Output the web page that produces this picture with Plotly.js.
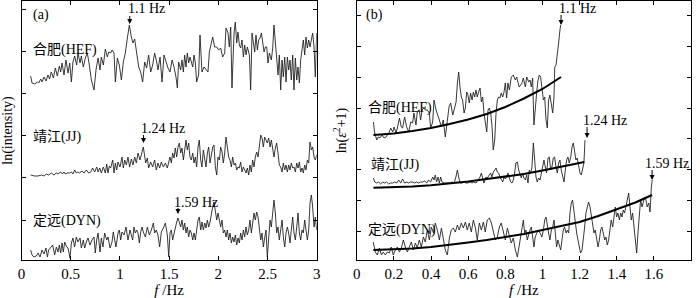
<!DOCTYPE html>
<html><head><meta charset="utf-8">
<script src="https://cdn.plot.ly/plotly-3.0.1.min.js"></script>
<style>html,body{margin:0;padding:0;background:#fff}#chart{width:700px;height:298px}</style>
</head><body><div id="chart"></div>
<script>
// ---------- (a) ln(intensity) spectra ----------
const aHefF = [0.093,0.107,0.134,0.161,0.175,0.195,0.208,0.229,0.249,0.269,0.286,0.303,0.324,0.344,0.364,0.385,0.398,0.412,0.432,0.452,0.473,0.490,0.507,0.523,0.540,0.561,0.574,0.595,0.608,0.628,0.649,0.669,0.689,0.710,0.737,0.757,0.778,0.798,0.811,0.832,0.852,0.872,0.886,0.906,0.920,0.940,0.954,0.974,0.994,1.015,1.035,1.055,1.076,1.096,1.116,1.133,1.150,1.170,1.191,1.211,1.231,1.252,1.272,1.292,1.313,1.333,1.353,1.374,1.387,1.408,1.428,1.448,1.469,1.489,
1.509,1.530,1.550,1.570,1.584,1.597,1.618,1.631,1.645,1.658,1.672,1.685,1.699,1.712,1.726,1.740,1.753,1.767,1.780,1.800,1.814,1.834,1.855,1.875,1.895,1.909,1.929,1.943,1.963,1.984,2.004,2.024,2.044,2.065,2.078,2.099,2.112,2.126,2.139,2.160,2.173,2.187,2.200,2.214,2.227,2.241,2.255,2.268,2.282,2.295,2.316,2.329,2.343,2.356,2.370,2.383,2.397,2.410,2.424,2.438,2.451,2.465,2.478,2.492,2.505,2.519,2.539,2.553,2.566,2.580,2.593,2.607,2.620,2.634,2.648,2.661,2.675,2.688,2.702,2.715,2.729,2.742,2.756,2.769,2.783,2.797,2.810,2.824,2.837,2.851,2.864,2.878,2.891,2.905,2.919,2.932,2.946,2.959,2.973,2.986,3.000];
const aHefV = [18.4,17.7,17.6,17.8,17.7,18.1,17.8,18.3,17.9,18.5,18.1,18.8,18.2,19.2,18.4,19.4,18.8,19.7,18.5,20.0,18.7,19.7,17.8,19.8,20.4,19.5,20.7,19.7,20.4,19.3,20.2,20.7,19.5,18.0,17.0,19.0,20.2,19.0,20.3,19.5,21.1,20.3,20.8,20.7,21.0,20.7,17.8,20.2,19.5,18.0,19.8,20.7,22.2,23.5,22.3,21.7,22.1,20.5,19.3,18.8,17.8,19.8,19.2,20.5,18.8,19.5,20.7,19.8,19.0,20.3,17.8,20.5,19.7,19.2,
18.8,20.0,19.3,18.3,17.2,19.8,19.0,20.0,18.8,20.5,19.3,20.7,19.7,20.3,19.8,19.3,20.5,19.7,17.8,18.5,22.5,18.8,19.3,19.0,18.8,20.8,21.7,22.3,21.3,21.3,21.0,21.2,20.3,20.7,23.2,22.7,21.3,23.3,17.2,22.7,23.8,21.7,22.8,21.5,21.2,22.0,20.3,21.5,20.5,21.3,20.5,17.0,22.7,21.7,20.8,22.5,21.0,22.0,22.2,22.7,21.8,20.8,21.3,21.3,19.7,20.7,20.0,21.2,23.5,21.7,20.5,18.5,20.5,17.0,20.0,18.3,20.3,17.8,20.3,19.0,20.0,18.0,20.5,17.0,20.2,18.0,19.3,17.7,20.0,21.3,22.0,20.5,22.3,21.2,22.0,21.3,22.3,22.7,21.3,18.3,22.7];

const aJjF = [0.093,0.134,0.168,0.202,0.229,0.252,0.276,0.303,0.330,0.354,0.371,0.398,0.415,0.432,0.446,0.466,0.490,0.507,0.523,0.540,0.557,0.574,0.591,0.615,0.635,0.659,0.683,0.703,0.723,0.744,0.764,0.778,0.795,0.811,0.832,0.852,0.866,0.879,0.893,0.906,0.927,0.940,0.954,0.967,0.981,1.001,1.021,1.035,1.049,1.066,1.082,1.099,1.116,1.133,1.150,1.167,1.184,1.204,1.238,1.250,1.262,1.279,1.292,1.313,1.333,1.353,1.370,1.387,1.404,1.421,1.442,1.462,1.482,
1.509,1.523,1.536,1.550,1.563,1.577,1.590,1.604,1.618,1.631,1.645,1.658,1.672,1.685,1.699,1.712,1.726,1.740,1.753,1.767,1.780,1.794,1.807,1.821,1.834,1.848,1.862,1.875,1.889,1.902,1.916,1.929,1.943,1.956,1.970,1.984,1.997,2.011,2.024,2.038,2.051,2.065,2.078,2.092,2.105,2.119,2.133,2.146,2.160,2.173,2.187,2.200,2.214,2.227,2.241,2.255,2.268,2.282,2.295,2.309,2.322,2.336,2.349,2.363,2.376,2.390,2.404,2.417,2.431,2.444,2.458,2.471,2.485,2.498,2.512,2.526,2.539,2.553,2.566,2.580,2.593,2.607,2.620,2.634,2.648,2.661,2.675,2.688,2.702,2.715,2.729,2.742,2.756,2.769,2.783,2.797,2.810,2.824,2.837,2.851,2.864,2.878,2.891,2.905,2.919,2.932,2.946,2.959,2.973,2.986,3.000];
const aJjV = [8.5,8.4,8.4,8.5,8.4,8.6,8.5,8.7,8.5,8.7,8.6,8.8,8.6,8.8,8.6,8.7,8.7,8.8,8.6,9.0,8.7,8.8,8.7,8.9,8.7,9.0,8.7,8.8,9.2,8.8,9.3,8.8,9.2,8.7,9.3,8.7,9.6,8.7,9.4,9.2,10.0,8.7,9.7,9.0,9.8,9.3,10.3,9.2,10.0,9.5,10.3,9.3,10.1,9.5,10.3,9.7,10.7,10.0,11.3,10.3,9.7,10.2,9.2,9.8,9.3,10.0,9.0,9.7,9.2,9.8,9.3,9.7,9.2,
10.3,9.7,10.7,10.2,11.2,10.3,11.3,11.7,10.7,11.2,10.0,11.3,12.0,11.0,11.7,10.3,10.0,10.7,9.7,10.3,9.3,11.3,12.0,10.0,9.3,11.0,10.3,9.3,10.7,11.3,9.7,10.3,11.3,11.5,9.3,8.5,10.3,10.0,11.3,10.8,9.7,10.7,12.3,11.3,10.3,10.0,9.3,10.3,9.5,9.7,9.0,9.3,9.2,9.8,8.8,9.3,9.0,8.7,9.2,8.5,9.5,8.8,10.0,9.3,10.3,10.8,10.3,11.3,12.5,12.2,11.3,12.3,12.0,11.7,12.2,11.3,12.0,11.0,10.3,11.2,11.7,10.7,9.5,9.3,8.8,9.7,9.0,9.5,8.8,9.5,9.0,9.7,9.2,9.3,8.8,9.7,9.2,9.8,8.8,9.2,8.7,9.5,9.0,10.0,9.7,11.8,11.0,11.3,10.3,10.0,10.5];

const aDynF = [0.093,0.107,0.127,0.151,0.168,0.188,0.208,0.229,0.249,0.263,0.276,0.296,0.317,0.337,0.354,0.371,0.385,0.398,0.412,0.425,0.439,0.459,0.473,0.493,0.507,0.523,0.540,0.557,0.574,0.595,0.608,0.628,0.642,0.659,0.676,0.696,0.716,0.737,0.750,0.764,0.778,0.798,0.811,0.828,0.845,0.866,0.879,0.900,0.920,0.933,0.947,0.960,0.981,0.994,1.008,1.021,1.042,1.062,1.082,1.103,1.116,1.130,1.143,1.157,1.170,1.184,1.198,1.211,1.225,1.238,1.259,1.279,1.299,1.320,1.340,1.353,1.370,1.387,1.404,1.421,1.442,1.462,1.482,
1.496,1.509,1.523,1.536,1.550,1.563,1.577,1.590,1.604,1.618,1.631,1.645,1.658,1.672,1.685,1.699,1.712,1.726,1.740,1.753,1.767,1.780,1.794,1.807,1.821,1.834,1.848,1.862,1.875,1.889,1.902,1.916,1.929,1.943,1.956,1.970,1.984,1.997,2.011,2.024,2.038,2.051,2.065,2.078,2.092,2.105,2.119,2.133,2.146,2.160,2.173,2.187,2.200,2.214,2.227,2.241,2.255,2.268,2.282,2.295,2.309,2.322,2.336,2.349,2.363,2.376,2.390,2.404,2.417,2.431,2.444,2.458,2.471,2.485,2.498,2.512,2.526,2.539,2.553,2.566,2.580,2.593,2.607,2.620,2.634,2.648,2.661,2.675,2.688,2.702,2.715,2.729,2.742,2.756,2.769,2.783,2.797,2.810,2.824,2.837,2.851,2.864,2.878,2.891,2.905,2.919,2.932,2.946,2.959,2.973,2.986,3.000];
const aDynV = [1.0,0.5,0.3,0.4,0.7,0.3,1.0,0.6,1.2,0.3,1.0,1.2,1.5,0.5,1.3,0.8,1.5,0.7,1.7,0.8,1.8,1.3,1.2,0.2,1.7,2.2,1.3,2.3,1.8,2.2,1.2,2.0,1.2,1.8,2.2,1.5,2.0,2.3,0.7,2.0,2.7,0.8,2.2,1.3,2.7,2.0,2.3,1.2,1.8,2.8,2.0,1.3,2.7,3.0,2.0,2.8,2.5,3.3,2.0,3.0,2.5,2.0,3.3,2.7,3.0,2.7,1.7,2.8,3.3,2.8,2.3,3.3,2.5,3.0,3.7,2.7,3.0,2.5,1.3,2.8,3.2,3.7,2.5,
0.3,2.7,3.0,2.0,2.7,3.3,3.8,4.2,3.8,3.3,4.0,3.0,3.7,2.7,3.3,2.3,3.0,2.7,2.0,2.7,2.0,3.0,4.0,4.3,3.0,3.8,3.0,3.7,3.2,4.0,3.3,3.8,4.7,5.3,5.8,4.7,4.0,4.7,3.8,3.3,4.0,2.7,3.0,2.3,3.0,2.0,2.7,1.7,2.3,1.8,2.5,1.5,2.2,1.7,2.7,2.0,3.0,2.3,3.3,2.5,3.0,4.0,2.7,3.7,4.7,4.0,4.8,4.3,3.0,2.0,2.7,1.3,2.2,3.0,0.3,2.7,4.0,3.3,4.7,6.0,4.7,2.7,3.3,2.0,3.0,4.0,2.3,1.3,2.7,3.3,2.7,1.7,3.0,4.3,2.7,2.0,3.3,4.7,2.7,2.0,3.0,2.7,4.0,2.7,2.0,3.0,5.7,6.5,5.3,3.3,4.3,3.0];

// ---------- (b) ln(eps^2+1) with fitted trends ----------
const bHefF = [0.090,0.097,0.108,0.115,0.125,0.136,0.147,0.158,0.165,0.176,0.183,0.194,0.201,0.212,0.219,0.230,0.240,0.247,0.258,0.269,0.280,0.291,0.301,0.308,0.319,0.326,0.337,0.344,0.352,0.362,0.369,0.380,0.391,0.398,0.409,0.416,0.427,0.434,0.445,0.456,0.466,0.477,0.488,0.497,0.506,0.517,0.524,0.535,0.542,0.549,0.556,0.563,0.570,0.578,0.585,0.592,0.599,0.606,0.613,0.621,0.628,0.635,0.642,0.649,0.656,0.664,0.671,0.678,0.685,0.692,0.700,0.707,0.714,0.721,0.728,0.735,0.743,0.750,0.757,0.764,0.771,0.778,0.786,0.793,0.800,0.807,0.814,0.822,0.832,0.843,0.854,0.861,0.868,0.875,0.890,0.897,0.908,0.915,0.926,0.933,0.940,0.947,0.954,0.961,0.969,0.976,0.983,0.990,0.997,1.005,1.012,1.019,1.026,1.033,1.040,1.048,1.055,1.062,1.066,1.073,1.080,1.087,1.094,1.098];
const bHefV = [13.8,12.7,12.0,12.3,12.2,12.5,12.2,12.3,12.5,12.8,13.2,12.8,13.3,12.7,13.2,14.2,13.3,13.2,14.3,13.3,12.8,13.8,13.7,14.7,13.5,14.8,15.0,14.0,15.0,15.2,15.0,15.0,14.7,13.2,13.8,16.0,15.0,14.5,14.0,13.3,14.0,12.3,14.3,15.3,15.7,14.5,15.0,15.8,17.7,18.8,17.3,16.3,16.0,14.7,15.2,16.8,16.5,15.7,16.7,16.0,16.8,16.3,17.0,16.3,16.8,17.2,15.8,16.3,14.7,14.0,12.8,15.0,15.2,14.7,13.5,11.0,12.0,14.7,16.0,16.3,16.2,16.7,16.3,16.8,17.7,16.2,17.7,17.0,18.3,18.5,18.0,18.3,17.7,17.3,17.7,18.2,17.3,18.3,17.8,18.0,17.3,18.2,13.5,15.3,16.8,18.0,18.5,18.3,17.3,16.0,16.3,14.0,13.2,16.0,16.5,15.3,14.7,16.3,19.3,19.5,21.0,21.7,23.0,23.5];
const bHefFitF = [0.09,0.2,0.3,0.4,0.5,0.6,0.7,0.8,0.9,1.0,1.1];
const bHefFitV = [12.5,12.65,12.9,13.2,13.6,14.05,14.6,15.3,16.15,17.1,18.3];

const bJjF = [0.090,0.097,0.108,0.118,0.129,0.140,0.151,0.161,0.172,0.183,0.194,0.204,0.215,0.226,0.237,0.247,0.258,0.269,0.280,0.290,0.301,0.312,0.323,0.334,0.344,0.355,0.366,0.377,0.387,0.398,0.409,0.416,0.423,0.430,0.438,0.445,0.452,0.459,0.470,0.481,0.491,0.502,0.513,0.524,0.534,0.542,0.549,0.556,0.567,0.578,0.588,0.599,0.610,0.621,0.631,0.642,0.653,0.664,0.671,0.678,0.685,0.696,0.703,0.714,0.721,0.728,0.735,0.743,0.750,0.757,0.764,0.771,0.778,0.786,0.793,0.800,0.807,0.814,0.822,0.829,0.836,0.843,0.850,0.857,0.865,0.872,0.886,0.893,0.900,0.908,0.915,0.922,0.929,0.936,0.943,0.951,0.958,0.965,0.972,0.979,0.987,0.994,1.001,1.008,1.015,1.022,1.030,1.037,1.044,1.051,1.058,1.065,1.073,1.080,1.087,1.094,1.101,1.109,1.116,1.123,1.130,1.137,1.144,1.152,1.159,1.166,1.173,1.180,1.187,1.195,1.202,1.209,1.216,1.223,1.229];
const bJjV = [8.2,7.8,7.7,7.8,7.6,7.8,7.7,7.8,7.6,7.7,7.7,7.8,7.7,8.0,7.7,8.1,7.7,7.8,7.7,7.8,7.8,7.7,7.8,7.7,7.8,7.8,7.9,7.7,8.0,7.8,8.3,8.0,8.5,7.8,8.3,7.7,8.3,7.8,7.7,7.7,7.7,7.7,7.8,7.7,8.3,9.0,8.3,7.7,7.7,7.8,7.7,7.7,7.8,7.7,7.8,7.7,8.0,8.3,8.7,8.0,7.7,8.3,8.2,8.5,8.7,8.3,8.8,9.0,9.2,8.8,8.7,8.3,8.0,7.8,8.3,8.1,8.3,8.7,8.2,7.8,7.7,8.0,8.7,9.7,9.8,9.0,8.2,8.7,8.2,8.0,8.5,7.7,9.0,8.7,9.2,11.7,10.0,8.3,7.8,8.2,8.0,8.7,9.5,10.0,9.3,8.7,10.2,10.3,9.0,9.3,10.2,10.3,9.3,8.7,9.7,10.0,9.0,8.3,7.8,9.0,10.0,10.3,9.7,10.3,11.3,11.7,10.7,10.0,10.2,9.3,8.7,8.5,9.3,9.7,12.0];
const bJjFitF = [0.09,0.2,0.3,0.4,0.5,0.6,0.7,0.8,0.9,1.0,1.1,1.225];
const bJjFitV = [7.23,7.27,7.35,7.48,7.65,7.85,8.1,8.35,8.6,8.95,9.33,9.8];

const bDynF = [0.089,0.100,0.111,0.122,0.133,0.143,0.154,0.165,0.176,0.186,0.197,0.208,0.219,0.230,0.240,0.251,0.262,0.273,0.283,0.294,0.305,0.316,0.326,0.337,0.348,0.359,0.369,0.380,0.391,0.402,0.413,0.423,0.434,0.445,0.456,0.466,0.477,0.488,0.499,0.509,0.520,0.531,0.542,0.552,0.563,0.574,0.585,0.595,0.606,0.617,0.628,0.639,0.649,0.660,0.671,0.682,0.692,0.703,0.714,0.725,0.735,0.746,0.757,0.768,0.778,0.789,0.800,0.811,0.822,0.832,0.843,0.854,0.865,0.875,
0.890,0.897,0.904,0.911,0.918,0.926,0.933,0.940,0.947,0.954,0.961,0.969,0.976,0.987,0.997,1.005,1.012,1.019,1.026,1.033,1.040,1.048,1.055,1.062,1.069,1.076,1.083,1.091,1.098,1.105,1.112,1.119,1.127,1.134,1.141,1.148,1.155,1.162,1.170,1.177,1.184,1.191,1.198,1.205,1.213,1.220,1.227,1.234,1.241,1.248,1.256,1.263,1.270,1.277,1.284,1.291,1.299,1.306,1.313,1.320,1.327,1.335,1.342,1.349,1.356,1.363,1.370,1.378,1.385,1.392,1.399,1.406,1.414,1.421,1.428,1.435,1.442,1.449,1.457,1.464,1.471,1.478,1.485,1.493,1.500,1.507,1.514,1.521,1.528,1.536,1.543,1.550,1.557,1.564,1.572,1.579,1.586,1.591];
const bDynV = [1.8,0.8,0.5,1.2,0.5,0.8,0.5,0.8,0.7,1.3,0.5,1.0,1.3,0.8,1.2,2.0,1.3,0.8,1.3,1.8,1.0,1.7,1.2,2.0,1.3,2.3,1.8,3.0,2.0,3.3,2.7,3.7,3.0,2.0,3.2,2.0,1.0,0.5,2.2,3.0,3.2,2.8,3.5,3.0,3.7,3.2,3.8,3.0,3.7,2.8,4.0,3.2,2.0,3.7,3.0,3.8,2.8,4.0,4.2,3.7,2.8,2.0,2.3,3.3,3.7,2.8,2.0,3.2,2.5,1.7,2.2,1.0,0.3,1.5,
3.0,4.0,2.7,3.0,2.0,2.7,3.0,3.3,2.0,1.3,2.3,2.7,3.0,2.7,2.3,3.0,4.0,4.3,3.3,2.7,2.0,3.0,3.3,4.0,2.7,1.3,2.0,1.3,1.0,2.0,3.0,3.3,2.7,3.0,2.7,4.7,5.7,6.0,4.7,3.3,2.7,2.0,1.3,0.7,1.0,2.0,3.3,4.7,5.3,5.8,5.3,4.3,3.7,2.7,3.0,2.0,1.3,2.0,3.0,3.3,2.7,2.0,2.3,1.5,2.0,3.3,4.0,3.3,4.7,5.3,4.3,4.7,4.0,4.7,4.3,5.0,4.7,5.3,6.0,6.7,5.3,4.0,4.7,3.0,2.0,0.7,2.7,4.3,6.0,5.3,5.7,6.3,6.0,5.3,5.7,4.8,7.3,8.0];
const bDynFitF = [0.09,0.2,0.3,0.4,0.5,0.6,0.7,0.8,0.9,1.0,1.1,1.2,1.3,1.4,1.5,1.59];
const bDynFitV = [1.0,1.05,1.15,1.3,1.5,1.75,2.0,2.3,2.6,3.0,3.4,3.8,4.4,5.05,5.75,6.5];

// station names and dominant frequencies
const stations = ['合肥(HEF)', '靖江(JJ)', '定远(DYN)'];
const peakFreq = [1.1, 1.24, 1.59];
const peakText = ['1.1 Hz', '1.24 Hz', '1.59 Hz'];
const peakLevelA = [23.6, 11.7, 4.6];
const peakLevelB = [23.5, 12.2, 8.0];
const xTicksA = [0, 0.5, 1, 1.5, 2, 2.5, 3];
const xTicksB = [0, 0.2, 0.4, 0.6, 0.8, 1, 1.2, 1.4, 1.6, 1.8];

const FONT = 'Liberation Serif, Times New Roman, Noto Sans CJK SC, serif';
const thin = {color: '#222', width: 0.9};
const thick = {color: '#000', width: 2};

const traces = [
  {x: aHefF, y: aHefV, xaxis: 'x', yaxis: 'y', mode: 'lines', line: thin},
  {x: aJjF, y: aJjV, xaxis: 'x', yaxis: 'y', mode: 'lines', line: thin},
  {x: aDynF, y: aDynV, xaxis: 'x', yaxis: 'y', mode: 'lines', line: thin},
  {x: bHefF, y: bHefV, xaxis: 'x2', yaxis: 'y2', mode: 'lines', line: thin},
  {x: bJjF, y: bJjV, xaxis: 'x2', yaxis: 'y2', mode: 'lines', line: thin},
  {x: bDynF, y: bDynV, xaxis: 'x2', yaxis: 'y2', mode: 'lines', line: thin},
  {x: bHefFitF, y: bHefFitV, xaxis: 'x2', yaxis: 'y2', mode: 'lines', line: thick},
  {x: bJjFitF, y: bJjFitV, xaxis: 'x2', yaxis: 'y2', mode: 'lines', line: thick},
  {x: bDynFitF, y: bDynFitV, xaxis: 'x2', yaxis: 'y2', mode: 'lines', line: thick}
];

const W = 700, H = 298;
const px = v => v / W, py = v => 1 - v / H;
const yDom = [py(260), py(1)];

const axCommon = {
  showline: true, mirror: 'ticks', linecolor: '#000', linewidth: 1,
  ticks: 'inside', ticklen: 4, tickwidth: 1, tickcolor: '#000',
  showgrid: false, zeroline: false, fixedrange: true,
  tickfont: {family: FONT, size: 15, color: '#000'}
};

const annotations = [];
const txt = (x, y, s, extra) => Object.assign({
  xref: 'paper', yref: 'paper', x: px(x), y: py(y), text: s, showarrow: false,
  xanchor: 'left', yanchor: 'middle', font: {family: FONT, size: 14, color: '#000'}
}, extra || {});

annotations.push(txt(31, 15, '(a)'));
annotations.push(txt(364, 15, '(b)'));
const nameA = [[31, 50], [31, 137], [31, 221]];
const nameB = [[366, 108], [369, 165], [366, 230]];
stations.forEach((s, i) => {
  annotations.push(txt(nameA[i][0], nameA[i][1], s));
  annotations.push(txt(nameB[i][0], nameB[i][1], s));
});

// peak arrows + labels
const arrLenA = [10, 10, 8], txtShiftA = [16, 15, 12], txtDxA = [-4, -5, -6];
const arrLenB = [12, 13, 12], txtShiftB = [17, 18, 17], txtDxB = [-4, -6, -9];
const arrow = (xr, yr, x, y, len) => ({xref: xr, yref: yr, x: x, y: y, ax: 0, ay: -len,
  text: '\u00a0', font: {size: 1}, showarrow: true, arrowhead: 2, arrowsize: 1, arrowwidth: 1,
  arrowcolor: '#000', standoff: 0, startstandoff: 0});
peakFreq.forEach((f, i) => {
  annotations.push(arrow('x', 'y', f, peakLevelA[i], arrLenA[i]));
  annotations.push({xref: 'x', yref: 'y', x: f, y: peakLevelA[i], text: peakText[i], showarrow: false,
    xanchor: 'left', yanchor: 'middle', xshift: txtDxA[i], yshift: txtShiftA[i],
    font: {family: FONT, size: 14, color: '#000'}});
  annotations.push(arrow('x2', 'y2', f, peakLevelB[i], arrLenB[i]));
  annotations.push({xref: 'x2', yref: 'y2', x: f, y: peakLevelB[i], text: peakText[i], showarrow: false,
    xanchor: 'left', yanchor: 'middle', xshift: txtDxB[i], yshift: txtShiftB[i],
    font: {family: FONT, size: 14, color: '#000'}});
});

const layout = {
  width: W, height: H, margin: {l: 0, r: 0, t: 0, b: 0},
  paper_bgcolor: '#fff', plot_bgcolor: '#fff', showlegend: false,
  font: {family: FONT, size: 14, color: '#000'},
  xaxis: Object.assign({}, axCommon, {domain: [px(21.5), px(316.7)], range: [0, 3],
    tickvals: xTicksA, ticktext: xTicksA.map(String), anchor: 'y',
    title: {text: '<i>f</i> /Hz', standoff: 0, font: {family: FONT, size: 15, color: '#000'}}}),
  yaxis: Object.assign({}, axCommon, {domain: yDom, range: [0, 25.9], tick0: 4.0, dtick: 4.215,
    showticklabels: false, anchor: 'x',
    title: {text: 'ln(intensity)', standoff: 5, font: {family: FONT, size: 14, color: '#000'}}}),
  xaxis2: Object.assign({}, axCommon, {domain: [px(356.7), px(691.1)], range: [0, 1.8],
    tickvals: xTicksB, ticktext: xTicksB.map(String), anchor: 'y2',
    title: {text: '<i>f</i> /Hz', standoff: 0, font: {family: FONT, size: 15, color: '#000'}}}),
  yaxis2: Object.assign({}, axCommon, {domain: yDom, range: [0, 25.9], tick0: 2.87, dtick: 3.08,
    showticklabels: false, anchor: 'x2',
    title: {text: 'ln(<i>ε</i><sup>2</sup>+1)', standoff: 5, font: {family: FONT, size: 14, color: '#000'}}}),
  annotations: annotations
};

Plotly.newPlot('chart', traces, layout, {displayModeBar: false, staticPlot: true});
</script>
</body></html>
